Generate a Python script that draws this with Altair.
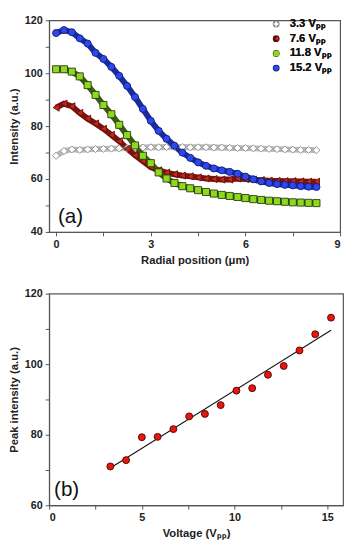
import altair as alt
import pandas as pd

# ---------------- panel (a) data ----------------
radial = [0.0, 0.25, 0.5, 0.75, 1.0, 1.25, 1.5, 1.75, 2.0, 2.25, 2.5, 2.75,
          3.0, 3.25, 3.5, 3.75, 4.0, 4.25, 4.5, 4.75, 5.0, 5.25, 5.5, 5.75,
          6.0, 6.25, 6.5, 6.75, 7.0, 7.25, 7.5, 7.75, 8.0, 8.25]
i_3_3 = [68.8, 70.6, 71.2, 71.0, 71.2, 71.3, 71.4, 71.5, 71.6, 71.7, 71.8, 71.9,
         72.0, 72.0, 72.1, 72.1, 72.1, 72.0, 72.0, 72.0, 71.9, 71.9, 71.8, 71.7,
         71.7, 71.6, 71.5, 71.4, 71.3, 71.2, 71.1, 71.0, 71.0, 70.9]
i_7_6 = [87.0, 88.5, 87.5, 85.0, 82.8, 81.0, 79.0, 76.7, 74.3, 71.5, 69.0, 66.8,
         64.5, 63.3, 62.4, 61.8, 61.3, 61.0, 60.6, 60.2, 60.0, 59.8, 59.8, 60.2,
         60.0, 59.8, 59.6, 59.4, 59.3, 59.2, 59.2, 59.1, 59.0, 59.0]
i_11_8 = [101.5, 101.5, 100.6, 98.8, 95.5, 91.8, 88.0, 84.5, 80.5, 76.6, 72.7, 68.8,
          66.0, 62.5, 60.2, 58.5, 57.3, 56.5, 55.8, 55.1, 54.5, 54.0, 53.6, 53.2,
          52.8, 52.4, 52.1, 51.8, 51.6, 51.4, 51.2, 51.1, 51.0, 50.9]
i_15_2 = [115.2, 116.3, 115.5, 113.2, 111.2, 107.7, 105.4, 102.4, 99.0, 95.2, 91.0, 86.5,
          82.0, 78.2, 75.2, 72.6, 70.0, 68.0, 66.3, 65.0, 64.0, 63.3, 62.7, 62.0,
          60.9, 59.9, 59.1, 58.5, 58.1, 57.8, 57.6, 57.3, 57.1, 57.0]
series_labels = ["3.3 Vₚₚ", "7.6 Vₚₚ", "11.8 Vₚₚ", "15.2 Vₚₚ"]

# ---------------- panel (b) data ----------------
voltage = [3.3, 4.15, 5.0, 5.85, 6.7, 7.55, 8.4, 9.25, 10.1, 10.95, 11.8, 12.65, 13.5, 14.35, 15.2]
peak = [71.0, 72.8, 79.3, 79.4, 81.6, 85.2, 85.9, 88.4, 92.5, 93.2, 97.0, 99.5, 103.9, 108.5, 113.2]

panel_labels = ["(a)", "(b)"]

# ---------------- styles ----------------
FONT = "Liberation Sans"
fill_colors = ["#ffffff", "#c8261c", "#8ed81e", "#2f47ee"]
edge_colors = ["#8a8a8a", "#5a0f0a", "#2a3a0c", "#101c78"]
band_colors = ["#b8b8b8", "#7a160f", "#3f5a14", "#1a2c9a"]
shapes = ["diamond", "triangle-left", "square", "circle"]

rows = []
for lab, vals in zip(series_labels, [i_3_3, i_7_6, i_11_8, i_15_2]):
    for x, y in zip(radial, vals):
        rows.append({"r": x, "intensity": y, "series": lab})
df_a = pd.DataFrame(rows)
df_b = pd.DataFrame({"voltage": voltage, "peak": peak})

H = 216

xa = alt.X("r:Q", scale=alt.Scale(domain=[-0.22, 9.0], nice=False, zero=False),
           axis=alt.Axis(title="Radial position (μm)",
                         values=[0, 1.5, 3, 4.5, 6, 7.5, 9],
                         labelExpr="datum.value % 3 == 0 ? datum.label : ''"))
ya = alt.Y("intensity:Q", scale=alt.Scale(domain=[40, 120], nice=False, zero=False),
           axis=alt.Axis(title="Intensity (a.u.)",
                         values=[40, 50, 60, 70, 80, 90, 100, 110, 120],
                         labelExpr="datum.value % 20 == 0 ? datum.label : ''"))

band = alt.Chart(df_a).mark_line(strokeWidth=6).encode(
    x=xa, y=ya,
    stroke=alt.Stroke("series:N", scale=alt.Scale(domain=series_labels, range=band_colors), legend=None),
    detail="series:N",
)
pts = alt.Chart(df_a).mark_point(filled=True, size=52, strokeWidth=0.9, opacity=1).encode(
    x=xa, y=ya,
    fill=alt.Fill("series:N", scale=alt.Scale(domain=series_labels, range=fill_colors),
                  legend=alt.Legend(title=None)),
    shape=alt.Shape("series:N", scale=alt.Scale(domain=series_labels, range=shapes),
                    legend=alt.Legend(title=None)),
    stroke=alt.Stroke("series:N", scale=alt.Scale(domain=series_labels, range=edge_colors),
                      legend=alt.Legend(title=None)),
)
lab_a = alt.Chart(pd.DataFrame({"t": [panel_labels[0]]})).mark_text(
    font=FONT, fontSize=21, align="left", baseline="bottom", color="#111").encode(
    text="t:N", x=alt.value(9), y=alt.value(H - 5))

panel_a = alt.layer(band, pts, lab_a).resolve_scale(stroke="independent").properties(
    width=297, height=H)

xb = alt.X("voltage:Q", scale=alt.Scale(domain=[0, 15.85], nice=False, zero=False),
           axis=alt.Axis(title="Voltage (Vₚₚ)",
                         values=[0, 2.5, 5, 7.5, 10, 12.5, 15],
                         labelExpr="datum.value % 5 == 0 ? datum.label : ''"))
yb = alt.Y("peak:Q", scale=alt.Scale(domain=[60, 120], nice=False, zero=False),
           axis=alt.Axis(title="Peak intensity (a.u.)",
                         values=[60, 70, 80, 90, 100, 110, 120],
                         labelExpr="datum.value % 20 == 0 ? datum.label : ''"))

fit = alt.Chart(df_b).transform_regression("voltage", "peak", extent=[3.3, 15.2]).mark_line(
    color="#111", strokeWidth=1.1).encode(x=xb, y=yb)
dots = alt.Chart(df_b).mark_circle(size=50, color="#e8160e", stroke="#5a0805",
                                   strokeWidth=1, opacity=1).encode(x=xb, y=yb)
lab_b = alt.Chart(pd.DataFrame({"t": [panel_labels[1]]})).mark_text(
    font=FONT, fontSize=21, align="left", baseline="bottom", color="#111").encode(
    text="t:N", x=alt.value(5), y=alt.value(H - 5))

panel_b = alt.layer(fit, dots, lab_b).properties(width=300, height=H)

chart = alt.vconcat(panel_a, panel_b, spacing=20).properties(
    padding={"left": 0, "top": 0, "right": 2, "bottom": 0}
).configure_view(stroke="#555", strokeWidth=1.2).configure_axis(
    labelFont=FONT, labelFontSize=11, labelFontWeight="bold", labelColor="#222",
    titleFont=FONT, titleFontSize=11.5, titleFontWeight="bold", titleColor="#222",
    grid=False, domainColor="#555", tickColor="#555", tickSize=4,
    labelPadding=3, titlePadding=5,
).configure_legend(
    orient="none", legendX=226, legendY=-2, labelFont=FONT, labelFontSize=11.5,
    labelFontWeight="bold", labelColor="#111", symbolSize=30, rowPadding=2, labelOffset=8,
)

chart.save("out.html", embed_options={"renderer": "svg", "actions": False})
